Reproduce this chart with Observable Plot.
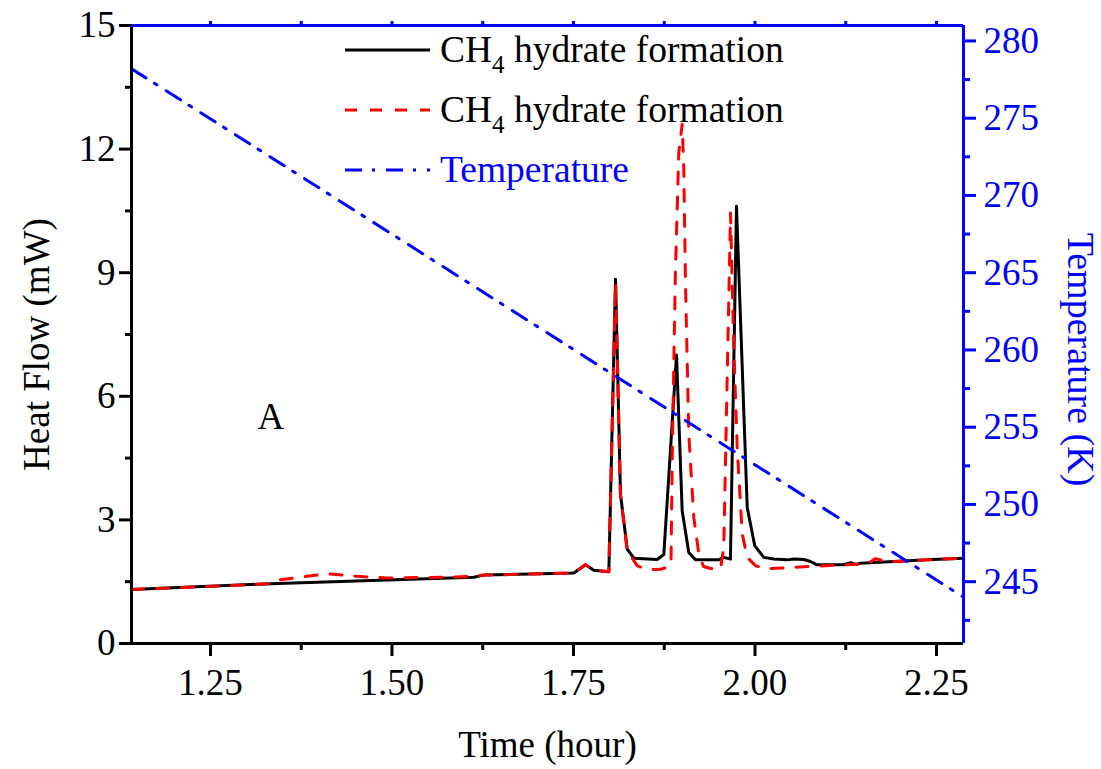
<!DOCTYPE html>
<html>
<head>
<meta charset="utf-8">
<script src="https://cdn.jsdelivr.net/npm/d3@7"></script>
<script src="https://cdn.jsdelivr.net/npm/@observablehq/plot@0.6"></script>
<style>
  html, body { margin: 0; padding: 0; background: #fff; }
  #wrap { position: relative; width: 1101px; height: 769px; }
  #legend { position: absolute; left: 0; top: 0; pointer-events: none; }
  text { font-family: "Liberation Serif", "Times New Roman", serif; }
</style>
</head>
<body>
<div id="wrap"></div>
<script>
// ---- data ----
const blackTime = [1.1412, 1.3326, 1.4934, 1.6127, 1.6264, 1.7504, 1.7665, 1.7780, 1.7987, 1.8079,
  1.8147, 1.8240, 1.8331, 1.8653, 1.8744, 1.8919, 1.8997, 1.9088, 1.9180, 1.9501,
  1.9570, 1.9662, 1.9745, 1.9893, 1.9997, 2.0121, 2.0259, 2.0443, 2.0534, 2.0672,
  2.0764, 2.0856, 2.1223, 2.1315, 2.1384, 2.1453, 2.1912, 2.2372, 2.2872];
const blackHeat = [1.31, 1.45, 1.54, 1.61, 1.66, 1.71, 1.91, 1.78, 1.74, 8.84,
  3.63, 2.29, 2.07, 2.04, 2.16, 7.0, 3.22, 2.21, 2.03, 2.03,
  2.09, 2.05, 10.61, 3.30, 2.37, 2.09, 2.05, 2.03, 2.05, 2.04,
  1.99, 1.91, 1.91, 1.96, 1.92, 1.95, 1.99, 2.03, 2.07];

const redTime = [1.1412, 1.3326, 1.3419, 1.4107, 1.4521, 1.4934, 1.5851, 1.6174, 1.6264, 1.7504,
  1.7665, 1.7780, 1.7987, 1.8079, 1.8147, 1.8240, 1.8377, 1.8515, 1.8698, 1.8791,
  1.8843, 1.8864, 1.8905, 1.8950, 1.8997, 1.9019, 1.9043, 1.9088, 1.9157, 1.9226,
  1.9291, 1.9387, 1.9525, 1.9570, 1.9663, 1.9708, 1.9755, 1.9824, 1.9893, 2.0007,
  2.0145, 2.0535, 2.0764, 2.1223, 2.1545, 2.1660, 2.1798, 2.1912, 2.2372, 2.2872];
const redHeat = [1.31, 1.45, 1.54, 1.69, 1.63, 1.59, 1.61, 1.64, 1.66, 1.71,
  1.91, 1.78, 1.74, 8.75, 3.60, 2.25, 1.89, 1.79, 1.80, 1.85,
  1.90, 5.0, 9.1, 11.9, 12.6, 11.54, 8.72, 5.09, 3.06, 2.18,
  1.87, 1.82, 1.81, 2.33, 10.45, 7.18, 4.76, 2.66, 2.09, 1.89,
  1.81, 1.85, 1.87, 1.91, 1.93, 2.06, 1.99, 1.99, 2.03, 2.07];

const tempTime = [1.1412, 2.2872];
const tempK = [278.2, 244.0];

const xMajor = [1.25, 1.50, 1.75, 2.00, 2.25];
const xMinor = [1.375, 1.625, 1.875, 2.125];
const yMajor = [0, 3, 6, 9, 12, 15];
const yMinor = [1.5, 4.5, 7.5, 10.5, 13.5];
const tMajor = [245, 250, 255, 260, 265, 270, 275, 280];
const tMinor = [242.5, 247.5, 252.5, 257.5, 262.5, 267.5, 272.5, 277.5];

const xDomain = [1.1412, 2.2872];
const tDomain = [241, 281];
const yDomain = [0, 15];

const legendLabels = ["CH", "4", " hydrate formation", "Temperature"];
const annotation = [{t: 1.333, v: 5.5, label: "A"}];

// ---- build ----
const blue = "#0000ff", red = "#ff0000";
const FS = 37;
const toY = T => (T - tDomain[0]) / (tDomain[1] - tDomain[0]) * yDomain[1];
const fromY = y => tDomain[0] + y / yDomain[1] * (tDomain[1] - tDomain[0]);

const black = blackTime.map((t, i) => ({t, v: blackHeat[i]}));
const redS = redTime.map((t, i) => ({t, v: redHeat[i]}));
const temp = tempTime.map((t, i) => ({t, v: toY(tempK[i])}));

const chart = Plot.plot({
  width: 1101, height: 769,
  marginLeft: 131, marginRight: 138, marginTop: 25, marginBottom: 126,
  x: {domain: xDomain},
  y: {domain: yDomain},
  style: {fontFamily: "'Liberation Serif', 'Times New Roman', serif", background: "white", overflow: "visible", color: "black"},
  marks: [
    Plot.line(black, {x: "t", y: "v", stroke: "#000", strokeWidth: 3, strokeLinejoin: "round"}),
    Plot.line(redS, {x: "t", y: "v", stroke: red, strokeWidth: 3, strokeDasharray: "12,13"}),
    Plot.line(temp, {x: "t", y: "v", stroke: blue, strokeWidth: 3, strokeDasharray: "17,10,3,11"}),
    // frame
    Plot.ruleX([xDomain[0]], {stroke: "#000", strokeWidth: 3}),
    Plot.ruleY([yDomain[0]], {stroke: "#000", strokeWidth: 3}),
    Plot.ruleX([xDomain[1]], {stroke: blue, strokeWidth: 3}),
    Plot.ruleY([yDomain[1]], {stroke: blue, strokeWidth: 3}),
    // bottom axis
    Plot.axisX({ticks: xMajor, tickSize: 13, tickPadding: 12, tickFormat: d3.format(".2f"), fontSize: FS, label: null, strokeWidth: 3}),
    Plot.axisX({ticks: xMinor, tickSize: 7, tickFormat: () => "", label: null, strokeWidth: 3}),
    // top axis
    Plot.axisX({anchor: "top", ticks: [...xMajor, ...xMinor], tickSize: 5, tickFormat: () => "", label: null, color: blue, strokeWidth: 3}),
    // left axis
    Plot.axisY({ticks: yMajor, tickSize: 12, tickPadding: 4, fontSize: FS, label: null, strokeWidth: 3}),
    Plot.axisY({ticks: yMinor, tickSize: 6, tickFormat: () => "", label: null, strokeWidth: 3}),
    // right axis (temperature)
    Plot.axisY({anchor: "right", ticks: tMajor.map(toY), tickSize: 12, tickPadding: 8, fontSize: FS,
      tickFormat: d => String(Math.round(fromY(d))), label: null, color: blue, strokeWidth: 3}),
    Plot.axisY({anchor: "right", ticks: tMinor.map(toY), tickSize: 6, tickFormat: () => "", label: null, color: blue, strokeWidth: 3}),
    // titles
    Plot.text(["Heat Flow (mW)"], {frameAnchor: "left", textAnchor: "middle", lineAnchor: "middle", dx: -94, dy: 10, rotate: -90, fontSize: FS, fill: "#000"}),
    Plot.text(["Temperature (K)"], {frameAnchor: "right", textAnchor: "middle", lineAnchor: "middle", dx: 117, dy: 25, rotate: 90, fontSize: 38, fill: blue}),
    Plot.text(["Time (hour)"], {frameAnchor: "bottom", textAnchor: "middle", lineAnchor: "middle", dy: 102, fontSize: FS, fill: "#000"}),
    Plot.text(annotation, {x: "t", y: "v", text: "label", fontSize: FS, fill: "#000"})
  ]
});

const wrap = document.getElementById("wrap");
wrap.appendChild(chart);

// legend overlay
const ns = "http://www.w3.org/2000/svg";
const lg = document.createElementNS(ns, "svg");
lg.setAttribute("id", "legend");
lg.setAttribute("width", 1101);
lg.setAttribute("height", 769);
const items = [
  {y: 50, stroke: "#000", dash: null, kind: "ch4", fill: "#000"},
  {y: 110, stroke: red, dash: "12,13", kind: "ch4", fill: "#000"},
  {y: 170, stroke: blue, dash: "17,10,3,11", kind: "temp", fill: blue}
];
for (const it of items) {
  const ln = document.createElementNS(ns, "line");
  ln.setAttribute("x1", 345); ln.setAttribute("x2", 430);
  ln.setAttribute("y1", it.y); ln.setAttribute("y2", it.y);
  ln.setAttribute("stroke", it.stroke); ln.setAttribute("stroke-width", 3);
  if (it.dash) ln.setAttribute("stroke-dasharray", it.dash);
  lg.appendChild(ln);
  const tx = document.createElementNS(ns, "text");
  tx.setAttribute("x", 440); tx.setAttribute("y", it.y + 12);
  tx.setAttribute("font-size", 37.5); tx.setAttribute("fill", it.fill);
  if (it.kind === "ch4") {
    const a = document.createElementNS(ns, "tspan"); a.textContent = legendLabels[0];
    const b = document.createElementNS(ns, "tspan"); b.textContent = legendLabels[1];
    b.setAttribute("font-size", 25); b.setAttribute("dy", 11);
    const c = document.createElementNS(ns, "tspan"); c.textContent = legendLabels[2];
    c.setAttribute("dy", -11);
    tx.appendChild(a); tx.appendChild(b); tx.appendChild(c);
  } else {
    tx.textContent = legendLabels[3];
  }
  lg.appendChild(tx);
}
wrap.appendChild(lg);
</script>
</body>
</html>
